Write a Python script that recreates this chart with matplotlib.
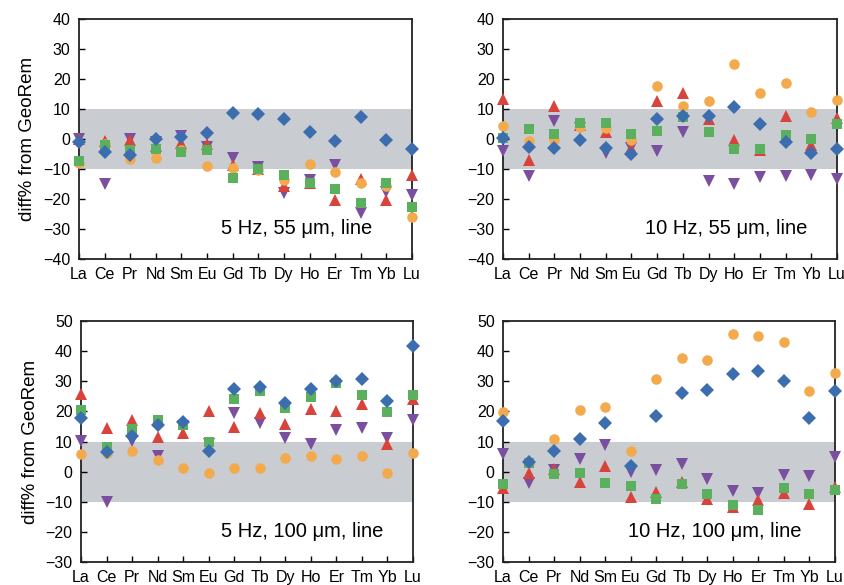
import numpy as np
import matplotlib.pyplot as plt

plt.rcParams['font.family'] = ['Liberation Sans', 'DejaVu Sans']

elements = ['La', 'Ce', 'Pr', 'Nd', 'Sm', 'Eu', 'Gd', 'Tb', 'Dy', 'Ho', 'Er', 'Tm', 'Yb', 'Lu']

# 5 Hz, 55 um
blue_a = [-1.1, -4.4, -5.3, 0, 0.6, 1.9, 8.6, 8.2, 6.6, 2.4, -0.7, 7.4, -0.3, -3.3]
orange_a = [-8, -1.5, -6.8, -6.2, -3.7, -9, -9.8, -10.3, -13.7, -8.4, -11.1, -14.8, -15.7, -25.9]
red_a = [0, -0.5, -0.3, -2.2, -1.4, -1.8, -8.7, -10, -15.7, -14.8, -20.3, -13.3, -20.3, -12]
green_a = [-7.2, -2, -3.7, -3.3, -4.4, -3.7, -13.1, -10.1, -12, -14.8, -16.8, -21.4, -14.8, -22.8]
purple_a = [0, -15.1, 0, -1, 1.1, -2.6, -6.4, -9.4, -18.1, -13.7, -8.7, -24.6, -17.6, -18.7]

# 10 Hz, 55 um
blue_b = [0.2, -2.6, -3.1, -0.3, -3.1, -5, 6.7, 7.8, 7.8, 10.8, 4.9, -1.1, -4.8, -3.4]
orange_b = [4.3, -0.7, -0.3, 4.1, 3.6, -0.3, 17.7, 11, 12.7, 25, 15.2, 18.8, 9.1, 13]
red_b = [13.3, -7, 11.1, 4.7, 2.4, -2.9, 12.7, 15.2, 6.7, -0.3, -3.7, 7.7, -2, 7.1]
green_b = [0.4, 3.3, 1.6, 5.4, 5.2, 1.7, 2.8, 7.2, 2.4, -3.4, -3.4, 1.3, 0, 4.9]
purple_b = [-4, -12.2, 6.1, 3.6, -4.6, -3.1, -4, 2.4, -14, -15, -12.8, -12.3, -12, -13.4]

# 5 Hz, 100 um
blue_c = [17.9, 6.5, 11.8, 15.5, 16.6, 6.9, 27.5, 28.1, 22.9, 27.5, 30, 30.8, 23.6, 41.7]
orange_c = [5.7, 6.3, 6.9, 3.8, 1.3, -0.3, 1.3, 1.3, 4.4, 5.2, 4.1, 5.2, -0.6, 6.3]
red_c = [25.9, 14.6, 17.3, 11.5, 12.9, 20.1, 14.8, 19.6, 15.7, 20.7, 20.1, 22.3, 9.1, 24]
green_c = [20.4, 8.3, 14, 17, 15.5, 9.9, 24, 26.7, 21.2, 24.9, 29.3, 25.6, 19.8, 25.3]
purple_c = [10.2, -10, 10.2, 5.2, 15, 9.1, 19.6, 16, 11.3, 9.1, 13.8, 14.4, 11.3, 17.3]

# 10 Hz, 100 um
blue_d = [16.9, 3.1, 6.9, 10.8, 16.1, 2, 18.3, 26.1, 27.2, 32.4, 33.3, 30.2, 17.8, 26.7]
orange_d = [19.8, 2.8, 10.8, 20.3, 21.4, 6.9, 30.6, 37.6, 37, 45.6, 45, 43.1, 26.9, 32.6]
red_d = [-5.6, -0.3, 0.9, -3.6, 2, -8.3, -6.9, -3.3, -9.2, -11.9, -9.4, -7.2, -10.9, -5.2]
green_d = [-4.2, 3, -0.8, -0.6, -3.9, -4.7, -9.2, -4.2, -7.4, -11.1, -12.8, -5.6, -7.4, -6.1]
purple_d = [5.9, -3.9, 0.6, 4.1, 8.9, 0, 0.6, 2.6, -2.6, -6.3, -7, -1.1, -1.4, 4.8]

labels = ['5 Hz, 55 μm, line', '10 Hz, 55 μm, line', '5 Hz, 100 μm, line', '10 Hz, 100 μm, line']
label_x = [0.88, 0.91, 0.91, 0.90]

# drawing order bottom -> top
styles = [('purple', 'v', '#7b4f9f', 9.2),
          ('red', '^', '#d8433b', 9.2),
          ('orange', 'o', '#f3aa4c', 7.6),
          ('green', 's', '#5bb05d', 7.2),
          ('blue', 'D', '#3c6daf', 6.8)]

panels = [
    dict(purple=purple_a, red=red_a, orange=orange_a, green=green_a, blue=blue_a),
    dict(purple=purple_b, red=red_b, orange=orange_b, green=green_b, blue=blue_b),
    dict(purple=purple_c, red=red_c, orange=orange_c, green=green_c, blue=blue_c),
    dict(purple=purple_d, red=red_d, orange=orange_d, green=green_d, blue=blue_d),
]

W, H = 845, 585
boxes = [(79, 19, 333, 240), (503, 19, 334, 240), (81, 321, 332, 241), (503, 321, 332, 241)]

fig = plt.figure(figsize=(W / 100, H / 100), dpi=100)
x = np.arange(len(elements))
for k, (px, py, pw, ph) in enumerate(boxes):
    ax = fig.add_axes([px / W, 1 - (py + ph) / H, pw / W, ph / H])
    ax.axhspan(-10, 10, color='#c9ccd1', lw=0, zorder=0)
    for name, mk, col, ms in styles:
        ax.plot(x, panels[k][name], ls='none', marker=mk, ms=ms, color=col,
                mew=0, clip_on=False, zorder=3)
    ax.set_xlim(0, len(elements) - 1)
    if k < 2:
        ax.set_ylim(-40, 40)
        ax.set_yticks(np.arange(-40, 41, 10))
    else:
        ax.set_ylim(-30, 50)
        ax.set_yticks(np.arange(-30, 51, 10))
    ax.set_xticks(x)
    ax.set_xticklabels(elements)
    ax.tick_params(direction='in', length=4, width=1, labelsize=11.5, pad=6,
                   colors='black')
    for s in ax.spines.values():
        s.set_linewidth(1.3)
        s.set_color('#222222')
    ax.text(label_x[k], 0.125, labels[k], transform=ax.transAxes, ha='right',
            va='center', fontsize=14.5)
    if k % 2 == 0:
        ax.set_ylabel('diff% from GeoRem', fontsize=13.5, labelpad=5)

fig.savefig('out.png', dpi=100)
